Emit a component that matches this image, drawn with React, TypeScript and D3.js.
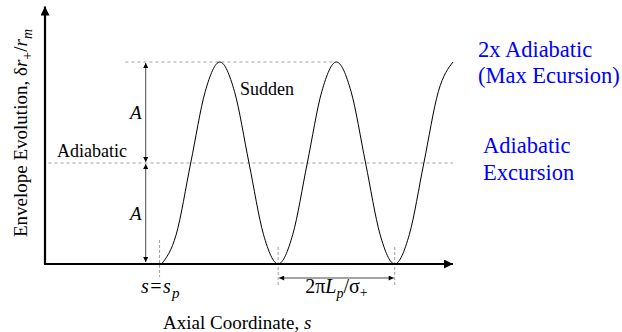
import React from "react";
import * as d3 from "d3";

// ---- data (s in units of the betatron period 2πLp/σ+, envelope in units of A)
const sValues = [1, 1.125, 1.25, 1.375, 1.5, 1.625, 1.75, 1.875, 2, 2.125, 2.25, 2.375, 2.5, 2.625, 2.75, 2.875, 3, 3.125, 3.25, 3.375, 3.5];
const envelopeValues = [0, 0.29, 1, 1.71, 2, 1.71, 1, 0.29, 0, 0.29, 1, 1.71, 2, 1.71, 1, 0.29, 0, 0.29, 1, 1.71, 2];
const sDomain = [0, 3.5];
const envDomain = [0, 2];
const envAxisTop = 2.55;
const sp = 1;
const troughs = [2, 3];
const adiabaticLevel = 1;
const maxLevel = 2;
const maxLineRange = [0.69, 2.5];
const adiabaticLineRange = [0.03, 3.5];
const aArrowS = 0.864;

const W = 622;
const H = 332;
const SERIF = '"Liberation Serif", "Times New Roman", Times, serif';

export default function App() {
  const x = d3.scaleLinear().domain(sDomain).range([45, 453]);
  const y = d3.scaleLinear().domain(envDomain).range([264, 62]);
  const pts: [number, number][] = sValues.map((s, i) => [s, envelopeValues[i]]);
  const line = d3
    .line<[number, number]>()
    .x((d) => x(d[0]))
    .y((d) => y(d[1]))
    .curve(d3.curveMonotoneX);
  const dash = "#a0a0a0";
  const ax = x(aArrowS);
  const tf = { fontFamily: SERIF };
  return (
    <svg width={W} height={H} style={{ position: "absolute", left: 0, top: 0, background: "#fff", fontFamily: SERIF }}>
      <defs>
        <marker id="big" viewBox="0 0 10 10" refX="10" refY="5" markerWidth="15" markerHeight="9" markerUnits="userSpaceOnUse" orient="auto">
          <path d="M0,0 L10,5 L0,10 z" fill="#000" />
        </marker>
        <marker id="small" viewBox="0 0 10 10" refX="10" refY="5" markerWidth="7" markerHeight="5" markerUnits="userSpaceOnUse" orient="auto-start-reverse">
          <path d="M0,0 L10,5 L0,10 z" fill="#000" />
        </marker>
      </defs>

      {/* dashed guide lines */}
      <line x1={x(maxLineRange[0])} x2={x(maxLineRange[1])} y1={y(maxLevel)} y2={y(maxLevel)} stroke={dash} strokeWidth={1} strokeDasharray="3,3" />
      <line x1={x(adiabaticLineRange[0])} x2={x(adiabaticLineRange[1])} y1={y(adiabaticLevel)} y2={y(adiabaticLevel)} stroke={dash} strokeWidth={1} strokeDasharray="3,3" />
      <line x1={x(sp) - 2} x2={x(sp) - 2} y1={240} y2={277} stroke={dash} strokeWidth={1} strokeDasharray="3,2" />
      {troughs.map((t) => (
        <line key={t} x1={x(t)} x2={x(t)} y1={247} y2={285} stroke={dash} strokeWidth={1} strokeDasharray="3,2" />
      ))}

      {/* curve */}
      <path d={line(pts) || ""} fill="none" stroke="#000" strokeWidth={1} />

      {/* axes */}
      <line x1={x(sDomain[0])} x2={x(sDomain[0])} y1={y(0)} y2={y(envAxisTop)} stroke="#000" strokeWidth={2.2} markerEnd="url(#big)" />
      <line x1={x(sDomain[0]) - 1} x2={x(sDomain[1])} y1={y(0)} y2={y(0)} stroke="#000" strokeWidth={2.2} markerEnd="url(#big)" />

      {/* A arrows */}
      <line x1={ax} x2={ax} y1={y(maxLevel) + 1} y2={y(adiabaticLevel) - 1} stroke="#333" strokeWidth={0.9} markerStart="url(#small)" markerEnd="url(#small)" />
      <line x1={ax} x2={ax} y1={y(adiabaticLevel) + 1} y2={y(0) - 2} stroke="#333" strokeWidth={0.9} markerStart="url(#small)" markerEnd="url(#small)" />
      <text style={tf} x={ax - 10} y={(y(maxLevel) + y(adiabaticLevel)) / 2 + 6} fontSize={19} fontStyle="italic" textAnchor="middle">A</text>
      <text style={tf} x={ax - 10} y={(y(adiabaticLevel) + y(0)) / 2 + 6} fontSize={19} fontStyle="italic" textAnchor="middle">A</text>

      {/* period dimension */}
      <line x1={x(troughs[0]) + 1} x2={x(troughs[1]) - 1} y1={278} y2={278} stroke="#333" strokeWidth={0.9} markerStart="url(#small)" markerEnd="url(#small)" />
      <text style={tf} x={(x(troughs[0]) + x(troughs[1])) / 2} y={293} fontSize={20} textAnchor="middle">
        2π<tspan fontStyle="italic">L</tspan>
        <tspan fontStyle="italic" fontSize={14} dy={5}>p</tspan>
        <tspan dy={-5}>/σ</tspan>
        <tspan fontSize={14} dy={4}>+</tspan>
      </text>

      <text style={tf} x={141} y={293} fontSize={20}>
        <tspan fontStyle="italic">s</tspan>
        <tspan dx={1.5}>=</tspan>
        <tspan fontStyle="italic" dx={1.5}>s</tspan>
        <tspan fontStyle="italic" fontSize={15} dx={1} dy={5}>p</tspan>
      </text>

      {/* labels */}
      <text style={tf} x={240} y={95} fontSize={18}>Sudden</text>
      <text style={tf} x={57} y={157} fontSize={18}>Adiabatic</text>

      <text style={tf} x={163} y={329} fontSize={19}>
        Axial Coordinate, <tspan fontStyle="italic">s</tspan>
      </text>

      <text style={tf} transform="translate(27,133) rotate(-90)" fontSize={19} textAnchor="middle">
        Envelope Evolution, δ<tspan fontStyle="italic">r</tspan>
        <tspan fontSize={14} dy={5}>+</tspan>
        <tspan dy={-5}>/</tspan>
        <tspan fontStyle="italic">r</tspan>
        <tspan fontStyle="italic" fontSize={14} dy={5}>m</tspan>
      </text>

      <g fill="#0000ff" fontSize={22.5}>
        <text style={tf} x={478} y={57}>2x Adiabatic</text>
        <text style={tf} x={478} y={83}>(Max Ecursion)</text>
        <text style={tf} x={483} y={153}>Adiabatic</text>
        <text style={tf} x={483} y={180}>Excursion</text>
      </g>
    </svg>
  );
}
